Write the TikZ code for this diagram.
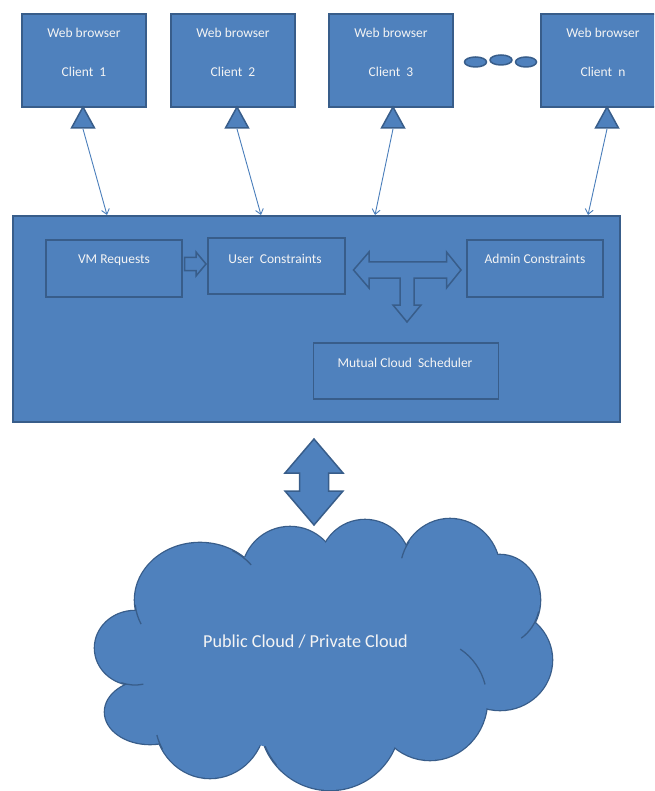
\documentclass[tikz,border=0pt]{standalone}
\usepackage{fontspec}
\setmainfont{Carlito}
\usetikzlibrary{arrows.meta}
\definecolor{fillblue}{HTML}{4F81BD}
\definecolor{edgeblue}{HTML}{385D8A}
\definecolor{linkblue}{HTML}{4A7EBB}
\definecolor{txt}{HTML}{F4F4F4}
\begin{document}
\begin{tikzpicture}[x=1pt,y=-1pt,
  boxstyle/.style={draw=edgeblue,fill=fillblue,line width=1.8pt,inner sep=0pt,outer sep=0pt},
  lbl/.style={text=txt,font=\fontsize{13.5}{16}\selectfont,inner sep=0pt,anchor=base},
  biglbl/.style={text=txt,font=\fontsize{18.2}{22}\selectfont,inner sep=0pt,anchor=base},
  link/.style={draw=linkblue,line width=0.9pt,-{Straight Barb[length=5pt,width=8pt]}},
  blockarrow/.style={draw=edgeblue,fill=fillblue,line width=1.5pt,line join=miter},
  dotstyle/.style={draw=edgeblue,fill=fillblue,line width=1.5pt},
  cloudedge/.style={draw=edgeblue,line width=2.6pt},
  cloudfill/.style={fill=fillblue},
  foldstyle/.style={draw=edgeblue,line width=1.3pt}]
\useasboundingbox (0,0) rectangle (654,791);
\clip (0,0) rectangle (654,791);

% client boxes
\node[boxstyle,minimum width=124pt,minimum height=93pt] (c1) at (84,60.5) {};
\node[boxstyle,minimum width=124pt,minimum height=93pt] (c2) at (233,60.5) {};
\node[boxstyle,minimum width=124pt,minimum height=93pt] (c3) at (391,60.5) {};
\node[boxstyle,minimum width=124pt,minimum height=93pt] (cn) at (603,60.5) {};
\node[lbl] (w1) at (84,37.8) {Web browser};
\node[lbl] (k1) at (84,76.8) {Client\ \ 1};
\node[lbl] (w2) at (233,37.8) {Web browser};
\node[lbl] (k2) at (233,76.8) {Client\ \ 2};
\node[lbl] (w3) at (391,37.8) {Web browser};
\node[lbl] (k3) at (391,76.8) {Client\ \ 3};
\node[lbl] (wn) at (603,37.8) {Web browser};
\node[lbl] (kn) at (603,76.8) {Client\ \ n};

% dots
\draw[dotstyle] (475.5,62) ellipse [x radius=11, y radius=5];
\draw[dotstyle] (501,60) ellipse [x radius=11, y radius=5];
\draw[dotstyle] (526,62) ellipse [x radius=10.5, y radius=5];

% triangles under clients
\draw[blockarrow] (83,107) -- (94.5,128) -- (71.5,128) -- cycle;
\draw[blockarrow] (237,107) -- (248.5,128) -- (225.5,128) -- cycle;
\draw[blockarrow] (393,107) -- (404.5,128) -- (381.5,128) -- cycle;
\draw[blockarrow] (607,107) -- (618.5,128) -- (595.5,128) -- cycle;
\coordinate (t1) at (83,129);
\coordinate (t2) at (237,129);
\coordinate (t3) at (393,129);
\coordinate (tn) at (607,129);

% main box
\node[boxstyle,minimum width=607pt,minimum height=206pt] (main) at (316.5,319) {};
\coordinate (m1) at (107,215);
\coordinate (m2) at (261,215);
\coordinate (m3) at (375,215);
\coordinate (mn) at (588,215);
\draw[link] (t1) -- (m1);
\draw[link] (t2) -- (m2);
\draw[link] (t3) -- (m3);
\draw[link] (tn) -- (mn);

% inner boxes
\node[boxstyle,minimum width=136pt,minimum height=57pt] (vm) at (114,268.5) {};
\node[boxstyle,minimum width=137pt,minimum height=56pt] (uc) at (276.5,266) {};
\node[boxstyle,minimum width=136pt,minimum height=57pt] (ac) at (535,268.5) {};
\node[boxstyle,minimum width=185pt,minimum height=56pt] (mcs) at (406,371) {};
\node[lbl] (vmt) at (114,263.6) {VM Requests};
\node[lbl] (uct) at (275,263.6) {User\ \ Constraints};
\node[lbl] (act) at (535,263.6) {Admin Constraints};
\node[lbl] (mcst) at (405,367.6) {Mutual Cloud\ \ Scheduler};

% block arrow VM -> User
\draw[blockarrow] (184.5,257.5) -- (196,257.5) -- (196,252) -- (206,264) -- (196,276) -- (196,270.5) -- (184.5,270.5) -- cycle;

% T arrow
\draw[blockarrow] (353.5,270) -- (369,252) -- (369,262) -- (446.5,262) -- (446.5,252) -- (461,270)
  -- (446.5,288) -- (446.5,278) -- (414,278) -- (414,305) -- (421,305) -- (407,322) -- (393,305)
  -- (400,305) -- (400,278) -- (369,278) -- (369,288) -- cycle;

% vertical double arrow
\draw[blockarrow] (314,439) -- (343,473) -- (328.5,473) -- (328.5,491) -- (343,491) -- (314,525)
  -- (285,491) -- (299.5,491) -- (299.5,473) -- (285,473) -- cycle;

% cloud: outlines of lobes
\foreach \cx/\cy/\rx/\ry in {135/648/40/37, 200/600/65/57, 290/575/48/48, 365/565/45/45,
  450/572/50/53, 500/600/40/45, 500/660/52/50, 430/700/57/60, 330/720/70/70,
  210/720/55/58, 150/712/45/32}{
  \draw[cloudedge] (\cx,\cy) ellipse [x radius=\rx, y radius=\ry];
}
\foreach \cx/\cy/\rx/\ry in {135/648/40/37, 200/600/65/57, 290/575/48/48, 365/565/45/45,
  450/572/50/53, 500/600/40/45, 500/660/52/50, 430/700/57/60, 330/720/70/70,
  210/720/55/58, 150/712/45/32, 320/650/200/100}{
  \fill[cloudfill] (\cx,\cy) ellipse [x radius=\rx, y radius=\ry];
}
% folds
\draw[foldstyle] (135,648) ++(78:40 and 37) arc[start angle=78, end angle=110, x radius=40, y radius=37];
\draw[foldstyle] (200,600) ++(155:65 and 57) arc[start angle=155, end angle=175, x radius=65, y radius=57];
\draw[foldstyle] (200,600) ++(300:65 and 57) arc[start angle=300, end angle=322, x radius=65, y radius=57];
\draw[foldstyle] (450,572) ++(195:50 and 53) arc[start angle=195, end angle=215, x radius=50, y radius=53];
\draw[foldstyle] (500,600) ++(15:40 and 45) arc[start angle=15, end angle=58, x radius=40, y radius=45];
\draw[foldstyle] (430,700) ++(302:57 and 60) arc[start angle=302, end angle=345, x radius=57, y radius=60];
\draw[foldstyle] (330,720) ++(140:70 and 70) arc[start angle=140, end angle=158, x radius=70, y radius=70];
\draw[foldstyle] (210,720) ++(150:55 and 58) arc[start angle=150, end angle=165, x radius=55, y radius=58];

\node[biglbl] (cloudt) at (305.5,647) {Public Cloud / Private Cloud};
\end{tikzpicture}
\end{document}
